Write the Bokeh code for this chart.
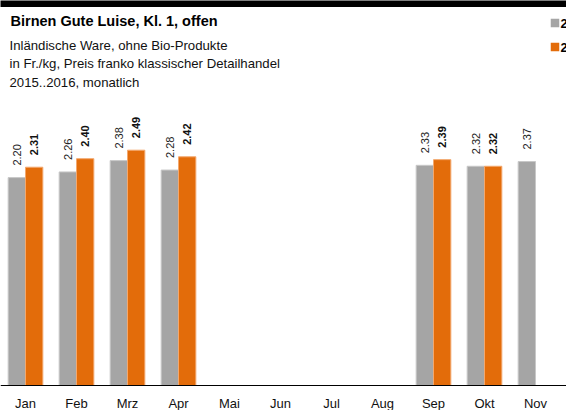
from bokeh.plotting import figure
from bokeh.models import Range1d, Span
from bokeh.core.properties import value
from bokeh.embed import file_html
from bokeh.resources import INLINE
import math

months = ["Jan", "Feb", "Mrz", "Apr", "Mai", "Jun", "Jul", "Aug", "Sep", "Okt", "Nov"]
v2015 = [2.20, 2.26, 2.38, 2.28, None, None, None, None, 2.33, 2.32, 2.37]
v2016 = [2.31, 2.40, 2.49, 2.42, None, None, None, None, 2.39, 2.32, None]
series_names = ["2015", "2016"]
title = "Birnen Gute Luise, Kl. 1, offen"
subtitles = ["Inländische Ware, ohne Bio-Produkte",
             "in Fr./kg, Preis franko klassischer Detailhandel",
             "2015..2016, monatlich"]

GRAY = "#A5A5A5"
ORANGE = "#E36C0A"
FONT = "Liberation Sans"

W, H = 566, 410
PX_X = 51.0      # pixels per month
X0 = 25.0        # pixel of first month centre
BASE = 385.0     # pixel of baseline
PX_Y = 94.5      # pixels per Fr.

XMIN, XMAX = -X0 / PX_X, (W - X0) / PX_X
YMIN, YMAX = -(H - BASE) / PX_Y, BASE / PX_Y

p = figure(width=W, height=H, output_backend="svg", toolbar_location=None,
           title=None,
           x_range=Range1d(XMIN, XMAX), y_range=Range1d(YMIN, YMAX),
           min_border=0, min_border_left=0, min_border_right=0,
           min_border_top=0, min_border_bottom=0,
           margin=(0, 0, 0, 0))
p.axis.visible = False
p.grid.visible = False
p.outline_line_color = None
p.background_fill_color = "white"
p.border_fill_color = "white"

idx = list(range(len(months)))

def pts(vals, shift):
    xs, ys = [], []
    for i, v in zip(idx, vals):
        if v is not None:
            xs.append(i + shift)
            ys.append(v)
    return xs, ys

def ydata(pix):
    return (BASE - pix) / PX_Y

def xdata(pix):
    return (pix - X0) / PX_X

bw = 0.34
gx, gy = pts(v2015, -0.17)
ox, oy = pts(v2016, 0.17)
p.vbar(x=gx, top=gy, bottom=0, width=bw, fill_color=GRAY, line_color="#C8C8C8", line_width=1)
p.vbar(x=ox, top=oy, bottom=0, width=bw, fill_color=ORANGE, line_color="#F3A86E", line_width=1)

off = 12 / PX_Y
p.text(x=gx, y=[v + off for v in gy], text=["%.2f" % v for v in gy], angle=math.pi / 2,
       text_align="left", text_baseline="middle", text_font=value(FONT),
       text_font_size="11px", text_color="#222222")
p.text(x=ox, y=[v + off for v in oy], text=["%.2f" % v for v in oy], angle=math.pi / 2,
       text_align="left", text_baseline="middle", text_font=value(FONT),
       text_font_size="11px", text_font_style="bold", text_color="#111111")

# month labels
p.text(x=idx, y=[-18 / PX_Y] * len(idx), text=months, text_align="center",
       text_baseline="middle", text_font=value(FONT), text_font_size="13px",
       text_color="#111111")

# baseline and top rule
p.add_layout(Span(location=0, dimension="width", line_color="black", line_width=1.2))
p.quad(left=[XMIN - 1], right=[XMAX + 1], top=[YMAX + 1], bottom=[ydata(6.5)],
       fill_color="black", line_color=None)

# title & subtitles
p.text(x=[xdata(10)], y=[ydata(20.5)], text=[title], text_align="left",
       text_baseline="middle", text_font=value(FONT), text_font_size="14.5px",
       text_font_style="bold", text_color="black")
p.text(x=[xdata(9)] * 3, y=[ydata(44.5), ydata(63), ydata(82)], text=subtitles,
       text_align="left", text_baseline="middle", text_font=value(FONT),
       text_font_size="13.2px", text_color="#111111")

# legend (cut at the right edge as in the reference)
lx = 554.5
p.rect(x=[xdata(lx)], y=[ydata(22.5)], width=8.5, height=8.5, width_units="screen",
       height_units="screen", fill_color=GRAY, line_color=None)
p.rect(x=[xdata(lx)], y=[ydata(46.5)], width=8.5, height=8.5, width_units="screen",
       height_units="screen", fill_color=ORANGE, line_color=None)
p.text(x=[xdata(560)] * 2, y=[ydata(22.5), ydata(46.5)], text=series_names,
       text_align="left", text_baseline="middle", text_font=value(FONT),
       text_font_size="13px", text_font_style="bold", text_color="black")

open("out.html", "w").write(file_html(p, INLINE))
